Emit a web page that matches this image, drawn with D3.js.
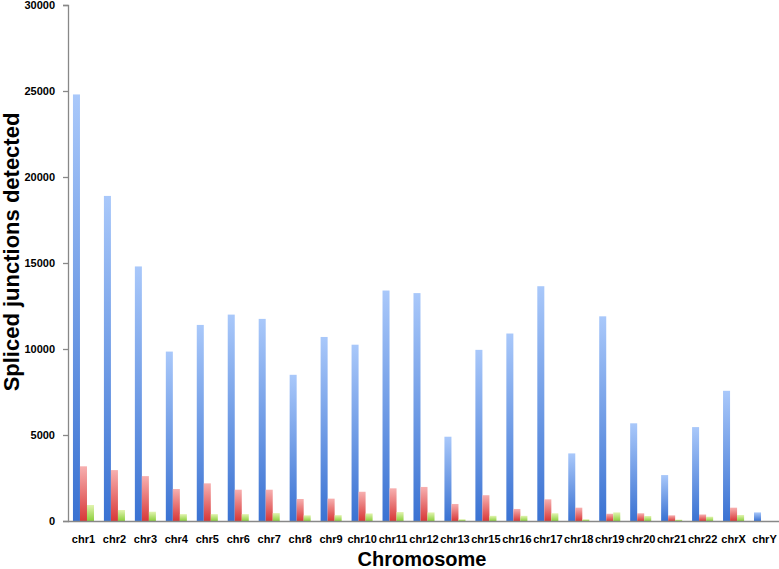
<!DOCTYPE html>
<html><head><meta charset="utf-8">
<script src="https://cdn.jsdelivr.net/npm/d3@7"></script>
<style>body{margin:0;background:#fff}svg{display:block}</style>
</head><body>
<script>
const categories = ["chr1","chr2","chr3","chr4","chr5","chr6","chr7","chr8","chr9","chr10","chr11","chr12","chr13","chr15","chr16","chr17","chr18","chr19","chr20","chr21","chr22","chrX","chrY"];
const seriesA = [24800,18900,14800,9850,11400,12000,11750,8500,10700,10250,13400,13250,4900,9950,10900,13650,3930,11900,5680,2670,5460,7570,500];
const seriesB = [3180,2960,2610,1860,2190,1820,1820,1280,1300,1700,1900,1980,990,1500,700,1260,775,420,450,330,380,775,0];
const seriesC = [930,640,540,400,400,400,460,330,340,440,520,500,100,300,300,450,100,500,290,80,250,350,0];
const yTicks = [0,5000,10000,15000,20000,25000,30000];
const seriesNames = ["A","B","C"];

const W = 779, H = 569;
const svg = d3.select("body").append("svg").attr("width", W).attr("height", H);
const defs = svg.append("defs");
const grads = [["gA","#a9c8fa","#3a72d2"],["gB","#f7b0b0","#d83838"],["gC","#e2f4b0","#8ccf3c"]];
grads.forEach(([id,top,bot]) => {
  const g = defs.append("linearGradient").attr("id", id).attr("x1",0).attr("y1",0).attr("x2",0).attr("y2",1);
  g.append("stop").attr("offset","0%").attr("stop-color",top);
  g.append("stop").attr("offset","100%").attr("stop-color",bot);
});

const x = d3.scaleBand().domain(categories).range([68, 780]).paddingInner(0.32).paddingOuter(0.16);
const xs = d3.scaleBand().domain(seriesNames).range([0, x.bandwidth()]);
const y = d3.scaleLinear().domain([0, 30000]).range([521, 5]);

const data = [seriesA, seriesB, seriesC];
data.forEach((vals, si) => {
  svg.append("g").selectAll("rect").data(categories).join("rect")
    .attr("x", (c) => x(c) + xs(seriesNames[si]))
    .attr("width", xs.bandwidth())
    .attr("y", (c, i) => y(vals[i]))
    .attr("height", (c, i) => y(0) - y(vals[i]))
    .attr("fill", `url(#${grads[si][0]})`);
});

const yAxis = svg.append("g").attr("transform","translate(68,0)")
  .call(d3.axisLeft(y).tickValues(yTicks).tickSize(5).tickPadding(8).tickFormat(d3.format("d")));
yAxis.selectAll("path,line").attr("stroke","#888").attr("stroke-width",1.3);
yAxis.selectAll("text").attr("font-family","Liberation Sans, Arial, sans-serif").attr("font-weight","bold").attr("font-size",11).attr("fill","#000");

const xAxis = svg.append("g").attr("transform","translate(0,521)")
  .call(d3.axisBottom(x).tickSize(0).tickPadding(14));
xAxis.select("path").attr("stroke","#888").attr("stroke-width",1.3).attr("d","M68,0.5H779");
xAxis.selectAll("text").attr("font-family","Liberation Sans, Arial, sans-serif").attr("font-weight","bold").attr("font-size",11).attr("fill","#000");

svg.append("text").attr("x",422).attr("y",566).attr("text-anchor","middle")
  .attr("font-family","Liberation Sans, Arial, sans-serif").attr("font-weight","bold").attr("font-size",20).text("Chromosome");
svg.append("text").attr("transform","translate(19,252) rotate(-90)").attr("text-anchor","middle")
  .attr("font-family","Liberation Sans, Arial, sans-serif").attr("font-weight","bold").attr("font-size",22).text("Spliced junctions detected");
</script>
</body></html>
